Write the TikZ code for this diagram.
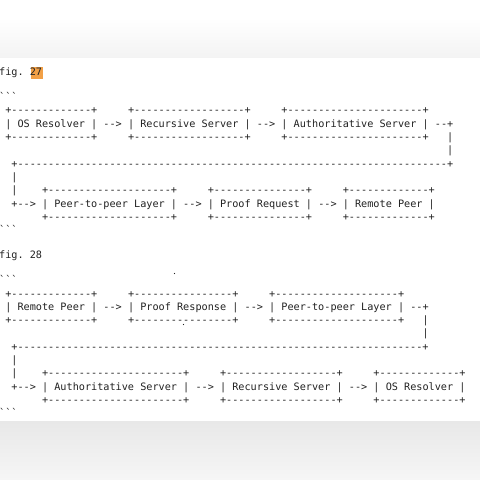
\documentclass[tikz,border=0pt]{standalone}
\usepackage{fontspec}
\setmonofont{DejaVu Sans Mono}
\ExplSyntaxOn
\cs_new:Npn \reprep #1 #2 { \prg_replicate:nn {#1} {#2} }
\ExplSyntaxOff
\newcommand\bx[1]{+\reprep{#1}{-}+}
\newcommand\asc[5]{\node[asc] (#1) at ({#2*6.137-0.87},{-(#3+13.3*#4)}) {#5};}
\definecolor{ink}{HTML}{222222}
\definecolor{hilite}{RGB}{242,160,70}
\tikzset{asc/.style={anchor=base west, inner sep=0pt, outer sep=0pt, text=ink,
  font=\ttfamily\fontsize{10.23pt}{13pt}\selectfont\frenchspacing}}
\begin{document}
\begin{tikzpicture}[x=1bp,y=1bp]
\useasboundingbox (0,0) rectangle (480,-480);
\fill[white] (0,0) rectangle (480,-480);
\shade[top color=white, bottom color={rgb,255:red,243;green,243;blue,243}] (0,-18) rectangle (480,-58);
\shade[top color={rgb,255:red,232;green,232;blue,232}, bottom color={rgb,255:red,246;green,246;blue,246}] (0,-421) rectangle (480,-480);
% fig. 27
\fill[hilite] (30.5,-67) rectangle (43,-79.5);
\node[asc] (f27) at (-0.87,-76) {fig. 27};
\asc{qa}{0}{114}{-1}{```}
\asc{a1t}{1}{114}{0}{\bx{13}}
\asc{a2t}{21}{114}{0}{\bx{18}}
\asc{a3t}{46}{114}{0}{\bx{22}}
\asc{a1}{1}{114}{1}{| OS Resolver |}
\asc{ea1}{17}{114}{1}{-->}
\asc{a2}{21}{114}{1}{| Recursive Server |}
\asc{ea2}{42}{114}{1}{-->}
\asc{a3}{46}{114}{1}{| Authoritative Server |}
\asc{ea3}{71}{114}{1}{--+}
\asc{a1b}{1}{114}{2}{\bx{13}}
\asc{a2b}{21}{114}{2}{\bx{18}}
\asc{a3b}{46}{114}{2}{\bx{22}}
\asc{va1}{73}{114}{2}{|}
\asc{va2}{73}{114}{3}{|}
\asc{ha}{2}{114}{4}{+\reprep{70}{-}+}
\asc{va3}{2}{114}{5}{|}
\asc{va4}{2}{114}{6}{|}
\asc{b1t}{7}{114}{6}{\bx{20}}
\asc{b2t}{34}{114}{6}{\bx{15}}
\asc{b3t}{56}{114}{6}{\bx{13}}
\asc{eb0}{2}{114}{7}{+-->}
\asc{b1}{7}{114}{7}{| Peer-to-peer Layer |}
\asc{eb1}{30}{114}{7}{-->}
\asc{b2}{34}{114}{7}{| Proof Request |}
\asc{eb2}{52}{114}{7}{-->}
\asc{b3}{56}{114}{7}{| Remote Peer |}
\asc{b1b}{7}{114}{8}{\bx{20}}
\asc{b2b}{34}{114}{8}{\bx{15}}
\asc{b3b}{56}{114}{8}{\bx{13}}
\asc{qb}{0}{114}{9}{```}
% fig. 28
\node[asc] (f28) at (-0.87,-258.5) {fig. 28};
\asc{qc}{0}{297}{-1}{```}
\asc{c1t}{1}{297}{0}{\bx{13}}
\asc{c2t}{21}{297}{0}{\bx{16}}
\asc{c3t}{44}{297}{0}{\bx{20}}
\asc{c1}{1}{297}{1}{| Remote Peer |}
\asc{ec1}{17}{297}{1}{-->}
\asc{c2}{21}{297}{1}{| Proof Response |}
\asc{ec2}{40}{297}{1}{-->}
\asc{c3}{44}{297}{1}{| Peer-to-peer Layer |}
\asc{ec3}{67}{297}{1}{--+}
\asc{c1b}{1}{297}{2}{\bx{13}}
\asc{c2b}{21}{297}{2}{\bx{16}}
\asc{c3b}{44}{297}{2}{\bx{20}}
\asc{vc1}{69}{297}{2}{|}
\asc{vc2}{69}{297}{3}{|}
\asc{hc}{2}{297}{4}{+\reprep{66}{-}+}
\asc{vc3}{2}{297}{5}{|}
\asc{vc4}{2}{297}{6}{|}
\asc{d1t}{7}{297}{6}{\bx{22}}
\asc{d2t}{36}{297}{6}{\bx{18}}
\asc{d3t}{61}{297}{6}{\bx{13}}
\asc{ed0}{2}{297}{7}{+-->}
\asc{d1}{7}{297}{7}{| Authoritative Server |}
\asc{ed1}{32}{297}{7}{-->}
\asc{d2}{36}{297}{7}{| Recursive Server |}
\asc{ed2}{57}{297}{7}{-->}
\asc{d3}{61}{297}{7}{| OS Resolver |}
\asc{d1b}{7}{297}{8}{\bx{22}}
\asc{d2b}{36}{297}{8}{\bx{18}}
\asc{d3b}{61}{297}{8}{\bx{13}}
\asc{qd}{0}{297}{9}{```}
% stray specks
\fill[ink] (174.5,-273.5) circle (0.6bp);
\fill[ink] (183.5,-324.5) circle (0.6bp);
\end{tikzpicture}
\end{document}
